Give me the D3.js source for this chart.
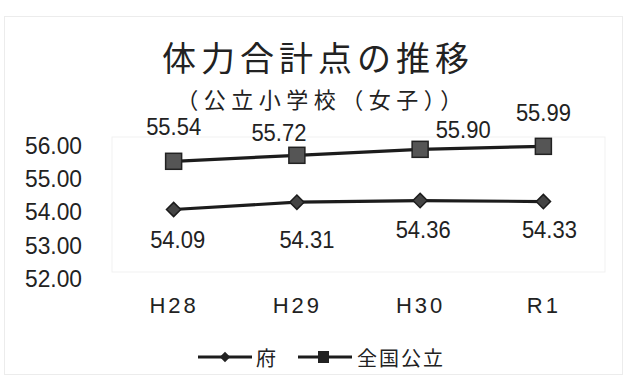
<!DOCTYPE html>
<html lang="ja">
<head>
<meta charset="utf-8">
<script src="https://cdn.jsdelivr.net/npm/d3@7"></script>
<style>
  html, body { margin: 0; padding: 0; background: #fff; }
  svg { display: block; }
  .num { font-family: "Liberation Sans", Arial, sans-serif; fill: #222; }
  .jp { font-family: "Noto Sans CJK JP", "Noto Sans", sans-serif; fill: #222; }
</style>
</head>
<body>
<svg id="chart" width="624" height="378"></svg>
<script>
// Fiscal years shown on the x axis
const years = ["H28", "H29", "H30", "R1"];
// Combined physical fitness score, public elementary school girls
const fuValues = [54.09, 54.31, 54.36, 54.33];      // 府
const zenkokuValues = [55.54, 55.72, 55.90, 55.99]; // 全国公立
const yTicks = [52, 53, 54, 55, 56];
const seriesNames = ["府", "全国公立"];

// hand-placed label nudges (dx, dy from the point)
const zenkokuNudge = [[0, -26], [-18, -14], [43, -11], [0, -25]];
const fuNudge = [[4, 38], [10, 46], [3, 37], [6, 36]];

const svg = d3.select("#chart");
const W = 624, H = 378;
const plot = { left: 112, right: 605, top: 137, bottom: 272 };

// faint outer frame
svg.append("rect").attr("x", 4.5).attr("y", 16.5).attr("width", W - 6).attr("height", H - 20)
  .attr("fill", "none").attr("stroke", "#ececec").attr("stroke-width", 1);

const x = d3.scalePoint().domain(years).range([plot.left, plot.right]).padding(0.5);
const y = d3.scaleLinear().domain([52, 56]).range([279, 146]);

// faint plot area
svg.append("rect").attr("x", plot.left).attr("y", plot.top)
  .attr("width", plot.right - plot.left).attr("height", plot.bottom - plot.top)
  .attr("fill", "none").attr("stroke", "#f1f1f1");

// Title
svg.append("text").attr("class", "jp").attr("x", 318).attr("y", 56)
  .attr("text-anchor", "middle").attr("dominant-baseline", "central")
  .attr("font-size", 34).attr("letter-spacing", 5).text("体力合計点の推移");
svg.append("text").attr("class", "jp").attr("x", 322).attr("y", 98)
  .attr("text-anchor", "middle").attr("dominant-baseline", "central")
  .attr("font-size", 22).attr("letter-spacing", 5.5).text("（公立小学校（女子））");

// Y axis: labels only
const yAxis = svg.append("g").attr("transform", `translate(${plot.left},0)`)
  .call(d3.axisLeft(y).tickValues(yTicks).tickFormat(d3.format(".2f")).tickSize(0).tickPadding(30));
yAxis.select(".domain").remove();
yAxis.selectAll("text").attr("class", "num").attr("font-size", 23)
  .attr("textLength", 57).attr("lengthAdjust", "spacingAndGlyphs")
  .attr("fill", "#222").style("font-family", null);

// X axis: labels only
const xAxis = svg.append("g").attr("transform", "translate(0,305)")
  .call(d3.axisBottom(x).tickSize(0).tickPadding(0));
xAxis.select(".domain").remove();
xAxis.selectAll("text").attr("class", "num").attr("font-size", 22)
  .attr("letter-spacing", 3)
  .attr("dy", "0.36em").attr("fill", "#222");

const line = d3.line().x((d, i) => x(years[i])).y(d => y(d));

// 全国公立 series
svg.append("path").datum(zenkokuValues).attr("d", line)
  .attr("fill", "none").attr("stroke", "#1c1c1c").attr("stroke-width", 3.2);
svg.selectAll(".sq").data(zenkokuValues).join("rect").attr("class", "sq")
  .attr("x", (d, i) => x(years[i]) - 8).attr("y", d => y(d) - 8)
  .attr("width", 16).attr("height", 16)
  .attr("fill", "#555").attr("stroke", "#222").attr("stroke-width", 1.5);

// 府 series
svg.append("path").datum(fuValues).attr("d", line)
  .attr("fill", "none").attr("stroke", "#1c1c1c").attr("stroke-width", 3.2);
const diamond = d3.symbol().type(d3.symbolDiamond2).size(130);
svg.selectAll(".dm").data(fuValues).join("path").attr("class", "dm")
  .attr("d", diamond)
  .attr("transform", (d, i) => `translate(${x(years[i])},${y(d)})`)
  .attr("fill", "#444").attr("stroke", "#1c1c1c").attr("stroke-width", 1.5);

// Value labels
const fmt = d3.format(".2f");
svg.selectAll(".lz").data(zenkokuValues).join("text").attr("class", "lz num")
  .attr("x", (d, i) => x(years[i]) + zenkokuNudge[i][0])
  .attr("y", (d, i) => y(d) + zenkokuNudge[i][1])
  .attr("text-anchor", "middle").attr("font-size", 23)
  .attr("textLength", 55).attr("lengthAdjust", "spacingAndGlyphs")
  .text(d => fmt(d));
svg.selectAll(".lf").data(fuValues).join("text").attr("class", "lf num")
  .attr("x", (d, i) => x(years[i]) + fuNudge[i][0])
  .attr("y", (d, i) => y(d) + fuNudge[i][1])
  .attr("text-anchor", "middle").attr("font-size", 23)
  .attr("textLength", 55).attr("lengthAdjust", "spacingAndGlyphs")
  .text(d => fmt(d));

// Legend
const lg = svg.append("g").attr("transform", "translate(0,357)");
lg.append("line").attr("x1", 198).attr("x2", 252).attr("y1", 0).attr("y2", 0)
  .attr("stroke", "#1c1c1c").attr("stroke-width", 3);
lg.append("path").attr("d", d3.symbol().type(d3.symbolDiamond2).size(70))
  .attr("transform", "translate(225,0)").attr("fill", "#222");
lg.append("text").attr("class", "jp").attr("x", 256).attr("y", 0)
  .attr("dominant-baseline", "central").attr("font-size", 20).text(seriesNames[0]);
lg.append("line").attr("x1", 298).attr("x2", 352).attr("y1", 0).attr("y2", 0)
  .attr("stroke", "#1c1c1c").attr("stroke-width", 3);
lg.append("rect").attr("x", 318).attr("y", -6).attr("width", 11).attr("height", 12)
  .attr("fill", "#222");
lg.append("text").attr("class", "jp").attr("x", 357).attr("y", 0)
  .attr("dominant-baseline", "central").attr("font-size", 20).attr("letter-spacing", 2)
  .text(seriesNames[1]);
</script>
</body>
</html>
